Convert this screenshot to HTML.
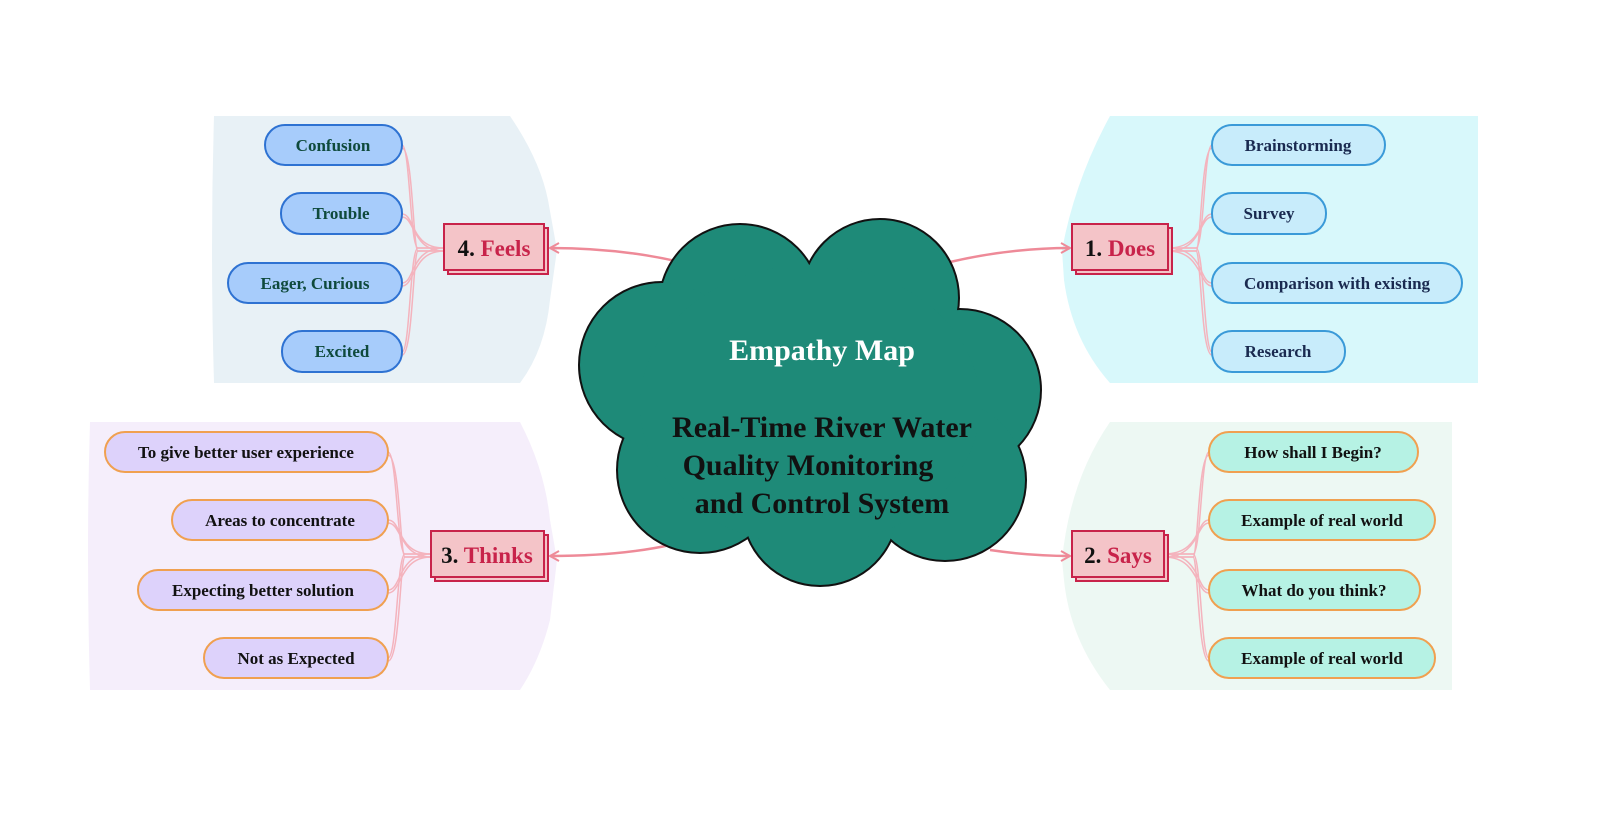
<!DOCTYPE html>
<html><head><meta charset="utf-8"><style>
html,body{margin:0;padding:0;background:#fff}
svg{display:block}
text{font-family:"Liberation Serif",serif;font-weight:bold}
</style></head><body>
<svg width="1600" height="818" viewBox="0 0 1600 818" xmlns="http://www.w3.org/2000/svg">
<defs>
<marker id="ar" markerWidth="12" markerHeight="12" refX="10" refY="6" orient="auto" markerUnits="userSpaceOnUse">
<path d="M1,1 L10,6 L1,11" fill="none" stroke="#ee8a98" stroke-width="2"/>
</marker>
</defs>
<!-- panels -->
<path d="M214,116 L510,116 Q540,160 548,200 L557,250 L550,300 Q545,350 520,383 L214,383 Q210,250 214,116Z" fill="#e8f1f6"/>
<path d="M1110,116 L1478,116 L1478,383 L1110,383 Q1072,340 1064,280 L1062,250 Q1075,180 1110,116Z" fill="#d8f8fb"/>
<path d="M90,422 L520,422 Q545,470 550,520 L557,560 L550,620 Q540,660 520,690 L90,690 Q86,550 90,422Z" fill="#f5eefb"/>
<path d="M1110,422 L1452,422 L1452,690 L1110,690 Q1070,640 1064,580 L1062,560 Q1070,480 1110,422Z" fill="#edf8f3"/>

<!-- arrows from cloud -->
<g fill="none" stroke="#ee8a98" stroke-width="2.5">
<path d="M680,262 Q620,248 550,248" marker-end="url(#ar)"/>
<path d="M950,262 Q1010,248 1070,248" marker-end="url(#ar)"/>
<path d="M670,545 Q620,556 550,556" marker-end="url(#ar)"/>
<path d="M990,550 Q1030,556 1070,556" marker-end="url(#ar)"/>
</g>

<!-- cloud -->
<g stroke="#111" stroke-width="4" fill="#111">
<circle cx="740" cy="305" r="80"/><circle cx="880" cy="298" r="78"/><circle cx="960" cy="390" r="80"/>
<circle cx="945" cy="480" r="80"/><circle cx="820" cy="508" r="77"/><circle cx="700" cy="470" r="82"/><circle cx="662" cy="365" r="82"/>
</g>
<g fill="#1e8a78">
<circle cx="740" cy="305" r="80"/><circle cx="880" cy="298" r="78"/><circle cx="960" cy="390" r="80"/>
<circle cx="945" cy="480" r="80"/><circle cx="820" cy="508" r="77"/><circle cx="700" cy="470" r="82"/><circle cx="662" cy="365" r="82"/>
<ellipse cx="810" cy="405" rx="170" ry="140"/>
</g>
<text x="822" y="360" font-size="30" fill="#fff" text-anchor="middle">Empathy Map</text>
<g font-size="30" fill="#111" text-anchor="middle">
<text x="822" y="437">Real-Time River Water</text>
<text x="808" y="475">Quality Monitoring</text>
<text x="822" y="513">and Control System</text>
</g>

<!-- connectors -->
<g fill="none" stroke="#f4b3bd" stroke-width="1.5">
<path d="M444,248 L418,248 C410,248 410,145 402,145"/><path d="M444,251 L418,251 C413,251 413,148 402,148"/>
<path d="M444,248 C410,248 415,214 402,214"/><path d="M444,251 C412,251 415,217 402,217"/>
<path d="M444,248 C410,248 415,283 402,283"/><path d="M444,251 C412,251 415,286 402,286"/>
<path d="M444,248 L418,248 C410,248 410,352 402,352"/><path d="M444,251 L418,251 C413,251 413,355 402,355"/>

<path d="M1168,248 L1196,248 C1204,248 1204,145 1212,145"/><path d="M1168,251 L1196,251 C1201,251 1201,148 1212,148"/>
<path d="M1168,248 C1204,248 1199,214 1212,214"/><path d="M1168,251 C1202,251 1199,217 1212,217"/>
<path d="M1168,248 C1204,248 1199,283 1212,283"/><path d="M1168,251 C1202,251 1199,286 1212,286"/>
<path d="M1168,248 L1196,248 C1204,248 1204,352 1212,352"/><path d="M1168,251 L1196,251 C1201,251 1201,355 1212,355"/>

<path d="M431,554 L405,554 C397,554 397,452 388,452"/><path d="M431,557 L405,557 C400,557 400,455 388,455"/>
<path d="M431,554 C397,554 402,520 388,520"/><path d="M431,557 C399,557 402,523 388,523"/>
<path d="M431,554 C397,554 402,590 388,590"/><path d="M431,557 C399,557 402,593 388,593"/>
<path d="M431,554 L405,554 C397,554 397,658 388,658"/><path d="M431,557 L405,557 C400,557 400,661 388,661"/>

<path d="M1164,554 L1193,554 C1201,554 1201,452 1209,452"/><path d="M1164,557 L1193,557 C1198,557 1198,455 1209,455"/>
<path d="M1164,554 C1201,554 1196,520 1209,520"/><path d="M1164,557 C1199,557 1196,523 1209,523"/>
<path d="M1164,554 C1201,554 1196,590 1209,590"/><path d="M1164,557 C1199,557 1196,593 1209,593"/>
<path d="M1164,554 L1193,554 C1201,554 1201,658 1209,658"/><path d="M1164,557 L1193,557 C1198,557 1198,661 1209,661"/>
</g>

<!-- category boxes -->
<g fill="#f4c4c8" stroke="#c8234a" stroke-width="2">
<rect x="448" y="228" width="100" height="46"/><rect x="444" y="224" width="100" height="46"/>
<rect x="1076" y="228" width="96" height="46"/><rect x="1072" y="224" width="96" height="46"/>
<rect x="435" y="535" width="113" height="46"/><rect x="431" y="531" width="113" height="46"/>
<rect x="1076" y="535" width="92" height="46"/><rect x="1072" y="531" width="92" height="46"/>
</g>
<g font-size="23">
<text x="494" y="256" text-anchor="middle"><tspan fill="#111">4. </tspan><tspan fill="#c8234a">Feels</tspan></text>
<text x="1120" y="256" text-anchor="middle"><tspan fill="#111">1. </tspan><tspan fill="#c8234a">Does</tspan></text>
<text x="487" y="563" text-anchor="middle"><tspan fill="#111">3. </tspan><tspan fill="#c8234a">Thinks</tspan></text>
<text x="1118" y="563" text-anchor="middle"><tspan fill="#111">2. </tspan><tspan fill="#c8234a">Says</tspan></text>
</g>

<!-- pills -->
<g stroke-width="2">
<g fill="#a7ccfb" stroke="#2e72d2">
<rect x="265" y="125" width="137" height="40" rx="20"/><rect x="281" y="193" width="121" height="41" rx="20"/>
<rect x="228" y="263" width="174" height="40" rx="20"/><rect x="282" y="331" width="120" height="41" rx="20"/>
</g>
<g fill="#c8ecfb" stroke="#3a9ad8">
<rect x="1212" y="125" width="173" height="40" rx="20"/><rect x="1212" y="193" width="114" height="41" rx="20"/>
<rect x="1212" y="263" width="250" height="40" rx="20"/><rect x="1212" y="331" width="133" height="41" rx="20"/>
</g>
<g fill="#ddd2fb" stroke="#f0a050">
<rect x="105" y="432" width="283" height="40" rx="20"/><rect x="172" y="500" width="216" height="40" rx="20"/>
<rect x="138" y="570" width="250" height="40" rx="20"/><rect x="204" y="638" width="184" height="40" rx="20"/>
</g>
<g fill="#b6f2e4" stroke="#f0a050">
<rect x="1209" y="432" width="209" height="40" rx="20"/><rect x="1209" y="500" width="226" height="40" rx="20"/>
<rect x="1209" y="570" width="211" height="40" rx="20"/><rect x="1209" y="638" width="226" height="40" rx="20"/>
</g>
</g>
<g font-size="17" text-anchor="middle">
<g fill="#0f4a3c">
<text x="333" y="151">Confusion</text><text x="341" y="219">Trouble</text>
<text x="315" y="289">Eager, Curious</text><text x="342" y="357">Excited</text>
</g>
<g fill="#1a2a50">
<text x="1298" y="151">Brainstorming</text><text x="1269" y="219">Survey</text>
<text x="1337" y="289">Comparison with existing</text><text x="1278" y="357">Research</text>
</g>
<g fill="#111">
<text x="246" y="458">To give better user experience</text><text x="280" y="526">Areas to concentrate</text>
<text x="263" y="596">Expecting better solution</text><text x="296" y="664">Not as Expected</text>
<text x="1313" y="458">How shall I Begin?</text><text x="1322" y="526">Example of real world</text>
<text x="1314" y="596">What do you think?</text><text x="1322" y="664">Example of real world</text>
</g>
</g>
</svg>
</body></html>
